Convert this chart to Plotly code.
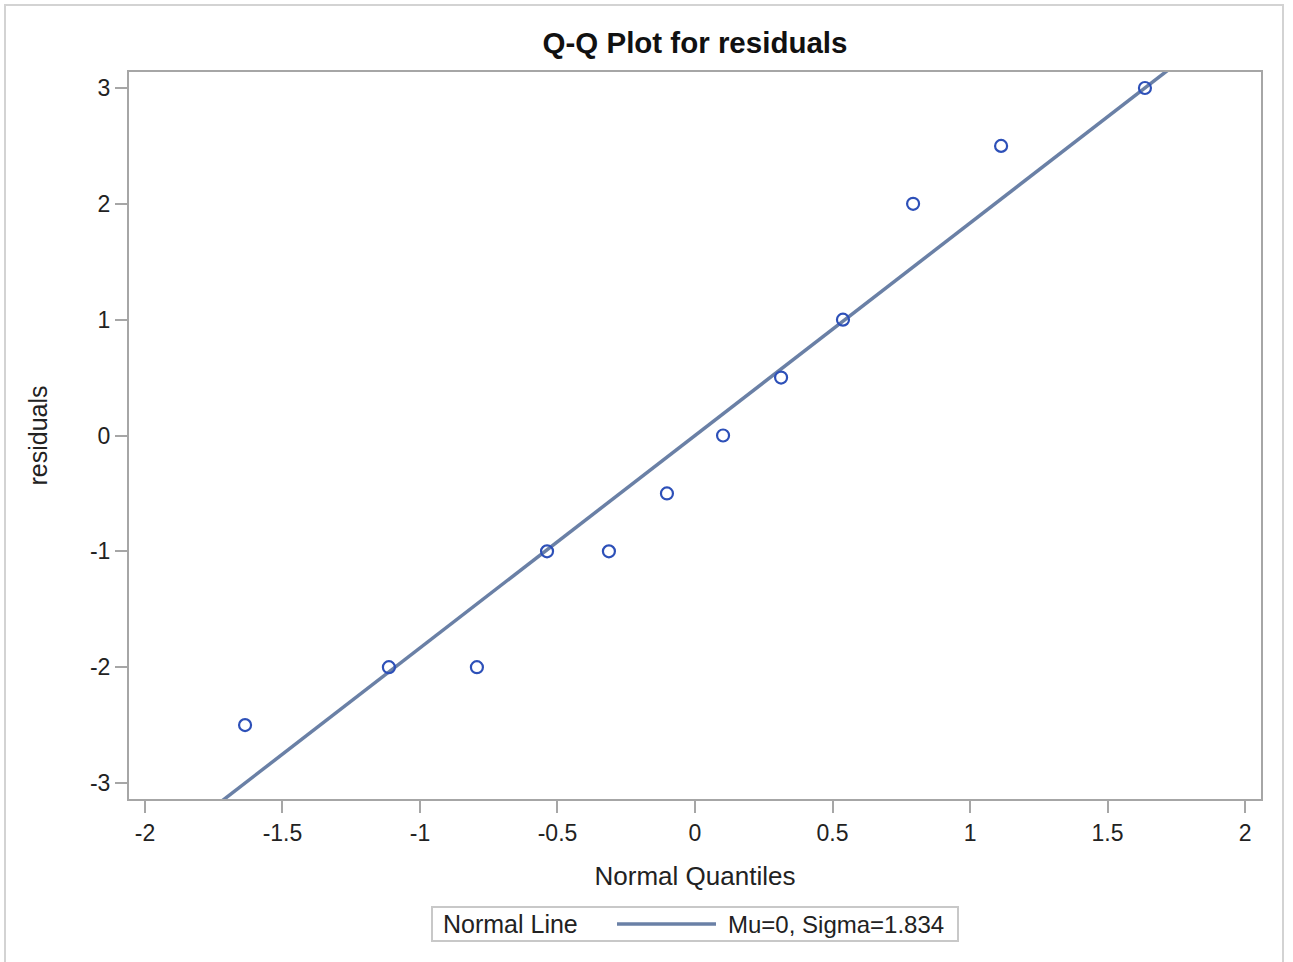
import plotly.graph_objects as go

# ---- data ----
normal_quantiles = [-1.636, -1.113, -0.793, -0.538, -0.313, -0.102,
                    0.102, 0.313, 0.538, 0.793, 1.113, 1.636]
residuals = [-2.5, -2.0, -2.0, -1.0, -1.0, -0.5, 0.0, 0.5, 1.0, 2.0, 2.5, 3.0]
mu = 0.0
sigma = 1.834

x_tickvals = [-2, -1.5, -1, -0.5, 0, 0.5, 1, 1.5, 2]
x_ticktext = ["-2", "-1.5", "-1", "-0.5", "0", "0.5", "1", "1.5", "2"]
y_tickvals = [-3, -2, -1, 0, 1, 2, 3]
y_ticktext = ["-3", "-2", "-1", "0", "1", "2", "3"]

title_text = "Q-Q Plot for residuals"
x_title = "Normal Quantiles"
y_title = "residuals"
legend_title = "Normal Line"
legend_entry = f"Mu={mu:g}, Sigma={sigma}"

# ---- layout geometry ----
W, H = 1293, 962
L, R, T, B = 129, 32, 72, 163
PW, PH = W - L - R, H - T - B
XR = [-2.058, 2.058]
YR = [-3.138, 3.138]

def px(x):
    return (x - L) / PW

def py(y):
    return (H - B - y) / PH

FONT = "Liberation Sans, Arial, sans-serif"
AXIS_COLOR = "#a6a6a6"
TEXT_COLOR = "#222222"
LINE_COLOR = "#6a80a6"
MARKER_COLOR = "#2d50b8"

fig = go.Figure()

# normal reference line y = mu + sigma * x (clipped by plot area)
line_x = [XR[0] - 0.2, XR[1] + 0.2]
line_y = [mu + sigma * v for v in line_x]
fig.add_trace(go.Scatter(
    x=line_x, y=line_y, mode="lines",
    line=dict(color=LINE_COLOR, width=3.5),
    showlegend=False, hoverinfo="skip",
))

fig.add_trace(go.Scatter(
    x=normal_quantiles, y=residuals, mode="markers",
    marker=dict(symbol="circle-open", size=12,
                line=dict(color=MARKER_COLOR, width=2.2), color=MARKER_COLOR),
    showlegend=False,
))

axis_common = dict(
    showgrid=False, zeroline=False, showline=True, mirror=True,
    linecolor=AXIS_COLOR, linewidth=2,
    ticks="outside", ticklen=12, tickwidth=2, tickcolor=AXIS_COLOR,
    tickfont=dict(family=FONT, size=23, color=TEXT_COLOR),
)

fig.update_xaxes(
    range=XR, tickmode="array", tickvals=x_tickvals, ticktext=x_ticktext,
    title=dict(text=x_title, font=dict(family=FONT, size=26, color=TEXT_COLOR), standoff=22),
    **axis_common,
)
fig.update_yaxes(
    range=YR, tickmode="array", tickvals=y_tickvals, ticktext=y_ticktext,
    title=dict(text=y_title, font=dict(family=FONT, size=25, color=TEXT_COLOR), standoff=35),
    **axis_common,
)

shapes = [
    # outer border
    dict(type="rect", xref="paper", yref="paper",
         x0=px(5), x1=px(1283), y0=py(975), y1=py(5),
         line=dict(color="#d3d3d3", width=2), fillcolor="rgba(0,0,0,0)", layer="below"),
    # legend box
    dict(type="rect", xref="paper", yref="paper",
         x0=px(432), x1=px(958), y0=py(941), y1=py(907),
         line=dict(color="#c8c8c8", width=2), fillcolor="rgba(0,0,0,0)"),
    # legend line sample
    dict(type="line", xref="paper", yref="paper",
         x0=px(617), x1=px(716), y0=py(924), y1=py(924),
         line=dict(color=LINE_COLOR, width=3.5)),
]

annotations = [
    dict(text=legend_title, xref="paper", yref="paper", x=px(441), y=py(924),
         xanchor="left", yanchor="middle", showarrow=False,
         font=dict(family=FONT, size=25, color=TEXT_COLOR)),
    dict(text=legend_entry, xref="paper", yref="paper", x=px(726), y=py(924),
         xanchor="left", yanchor="middle", showarrow=False,
         font=dict(family=FONT, size=24, color=TEXT_COLOR)),
]

fig.update_layout(
    width=W, height=H,
    margin=dict(l=L, r=R, t=T, b=B),
    paper_bgcolor="white", plot_bgcolor="white",
    title=dict(text=f"<b>{title_text}</b>", x=px(695), xref="paper",
               y=1 - 43 / H, yref="container", xanchor="center", yanchor="middle",
               font=dict(family=FONT, size=29.5, color="#111111")),
    shapes=shapes, annotations=annotations,
    showlegend=False,
)

fig.write_html("out.html")
